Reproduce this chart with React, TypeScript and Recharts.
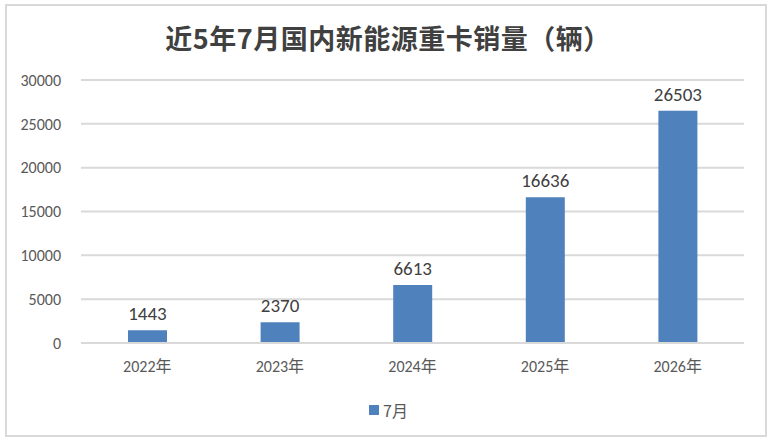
import React from 'react';
import { BarChart, Bar, XAxis, YAxis, CartesianGrid, LabelList } from 'recharts';

const categories = ['2022年', '2023年', '2024年', '2025年', '2026年'];
const sales = [1443, 2370, 6613, 16636, 26503];
const yTicks = [0, 5000, 10000, 15000, 20000, 25000, 30000];
const seriesName = '7月';
const title = '近5年7月国内新能源重卡销量（辆）';

const data = categories.map((c, i) => ({ name: c, value: sales[i] }));

const FONT = 'Calibri, Carlito, Lato, "Noto Sans CJK SC", sans-serif';

export default function App() {
  return (
    <div style={{ position: 'absolute', left: 0, top: 0, width: 776, height: 446, background: '#fff', fontFamily: FONT }}>
      <div style={{ position: 'absolute', left: 5, top: 4, width: 758, height: 429, border: '2px solid #d9d9d9', boxSizing: 'content-box' }} />
      <div style={{ position: 'absolute', left: 0, top: 20, width: 776, textAlign: 'center', fontSize: 27, fontWeight: 'bold', color: '#404040', fontFamily: '"Noto Sans CJK SC", sans-serif', lineHeight: '36px', letterSpacing: 0.5 }}>
        {title}
      </div>
      <div style={{ position: 'absolute', left: 0, top: 0 }}>
        <BarChart width={776} height={446} data={data} margin={{ top: 80, right: 32, bottom: 73, left: 0 }}>
          <CartesianGrid vertical={false} stroke="#d9d9d9" strokeWidth={2} />
          <XAxis dataKey="name" height={30} axisLine={{ stroke: '#d9d9d9', strokeWidth: 2 }} tickLine={false} tick={{ fill: '#595959', fontSize: 16, fontFamily: FONT }} tickMargin={12} />
          <YAxis width={81} domain={[0, 30000]} ticks={yTicks} axisLine={false} tickLine={false} tick={{ fill: '#595959', fontSize: 16, fontFamily: FONT }} tickMargin={14} interval={0} />
          <Bar dataKey="value" name={seriesName} fill="#4f81bd" barSize={39} isAnimationActive={false}>
            <LabelList dataKey="value" position="top" offset={10} style={{ fill: '#404040', fontSize: 19, fontFamily: FONT }} />
          </Bar>
        </BarChart>
      </div>
      <div style={{ position: 'absolute', left: 369, top: 398, display: 'flex', alignItems: 'center', fontSize: 16, color: '#595959', fontFamily: '"Noto Sans CJK SC", sans-serif' }}>
        <span style={{ display: 'inline-block', width: 10, height: 10, background: '#4f81bd', marginRight: 4 }} />
        <span>{seriesName}</span>
      </div>
    </div>
  );
}
